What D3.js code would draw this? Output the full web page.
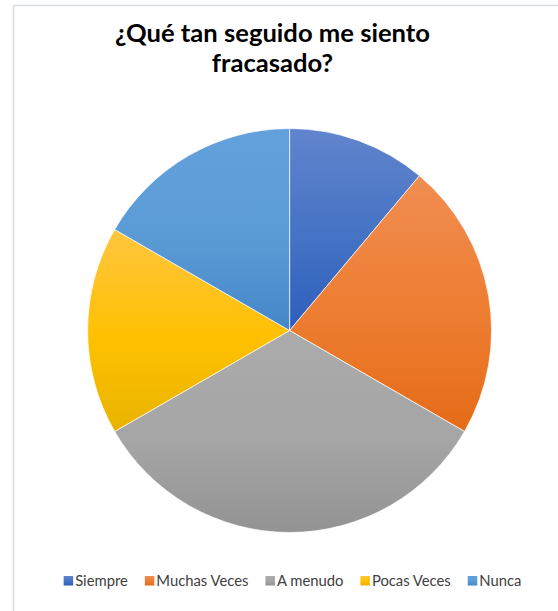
<!DOCTYPE html>
<html>
<head>
<meta charset="utf-8">
<script src="https://cdn.jsdelivr.net/npm/d3@7"></script>
<style>
  html, body { margin: 0; padding: 0; background: #ffffff; }
  svg { display: block; }
</style>
</head>
<body>
<svg id="chart" width="558" height="611"></svg>
<script>
// Survey answers: how often the respondent feels like a failure
const categories = ["Siempre", "Muchas Veces", "A menudo", "Pocas Veces", "Nunca"];
const counts = [2, 4, 6, 3, 3];
const titleLines = ["¿Qué tan seguido me siento", "fracasado?"];

// Base colour per slice with lighter top and darker bottom for the fill gradient
const baseColors = ["#4472c4", "#ed7d31", "#a5a5a5", "#ffc000", "#5b9bd5"];
const topColors = ["#6184cd", "#f18d52", "#ababab", "#ffc640", "#63a1dc"];
const bottomColors = ["#2e5ebd", "#e56b17", "#939393", "#e8b300", "#4487c8"];

const width = 558, height = 611;
const svg = d3.select("#chart");

// chart area frame
svg.append("path")
  .attr("d", `M13.5,${height + 2} V5.5 H${width + 2}`)
  .attr("fill", "none")
  .attr("stroke", "#d9dee5")
  .attr("stroke-width", 1.6);

// title
const title = svg.append("text")
  .attr("text-anchor", "middle")
  .attr("font-family", "Lato, 'Open Sans', sans-serif")
  .attr("font-weight", "bold")
  .attr("font-size", 25.6)
  .attr("fill", "#000000");
titleLines.forEach((line, i) => {
  title.append("tspan")
    .attr("x", 272.5)
    .attr("y", 42 + i * 30)
    .text(line);
});

// pie
const cx = 289.6, cy = 330.5, radius = 202;
const pie = d3.pie().sort(null).value(d => d.value).startAngle(0).endAngle(2 * Math.PI);
const arc = d3.arc().innerRadius(0).outerRadius(radius);
const data = categories.map((c, i) => ({ name: c, value: counts[i], i }));
const arcs = pie(data);

const defs = svg.append("defs");
arcs.forEach((a, i) => {
  const g = defs.append("linearGradient")
    .attr("id", "grad" + i)
    .attr("x1", 0).attr("y1", 0).attr("x2", 0).attr("y2", 1);
  g.append("stop").attr("offset", "0%").attr("stop-color", topColors[i]);
  g.append("stop").attr("offset", "55%").attr("stop-color", baseColors[i]);
  g.append("stop").attr("offset", "100%").attr("stop-color", bottomColors[i]);
});

svg.append("g")
  .attr("transform", `translate(${cx},${cy})`)
  .selectAll("path")
  .data(arcs)
  .join("path")
  .attr("d", arc)
  .attr("fill", (d, i) => `url(#grad${i})`)
  .attr("stroke", "#ffffff")
  .attr("stroke-width", 0.7);

// legend
const legend = svg.append("g");
const fontSize = 14.8;
const items = legend.selectAll("g.item")
  .data(categories)
  .join("g")
  .attr("class", "item");
items.append("rect")
  .attr("width", 9.5).attr("height", 9.5)
  .attr("y", 576)
  .attr("fill", (d, i) => `url(#grad${i})`);
items.append("text")
  .attr("x", 11.5)
  .attr("y", 585.5)
  .attr("font-family", "Lato, 'Open Sans', sans-serif")
  .attr("font-size", fontSize)
  .attr("fill", "#404040")
  .text(d => d);

const gap = 17;
const widths = [];
items.each(function () {
  widths.push(11.5 + d3.select(this).select("text").node().getComputedTextLength());
});
const total = d3.sum(widths) + gap * (widths.length - 1);
let x = 292.5 - total / 2;
items.attr("transform", (d, i) => {
  const t = `translate(${x},0)`;
  x += widths[i] + gap;
  return t;
});
</script>
</body>
</html>
